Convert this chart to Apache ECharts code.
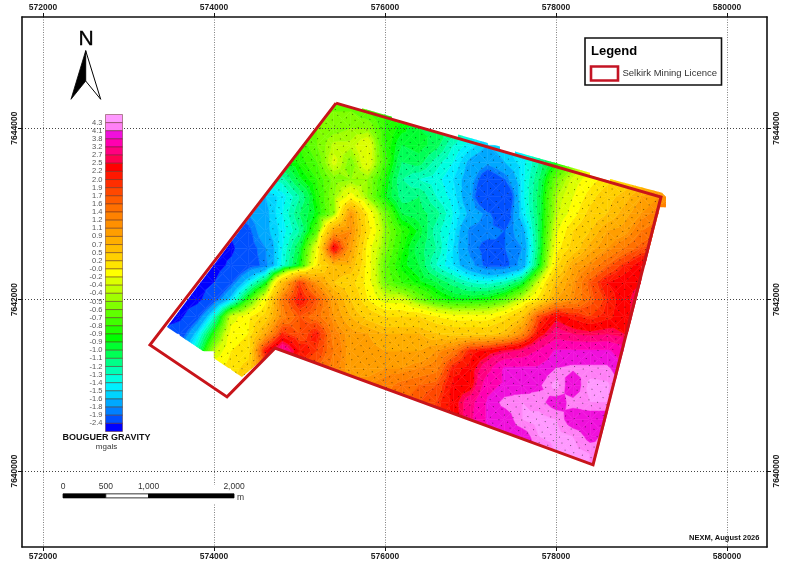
<!DOCTYPE html>
<html><head><meta charset="utf-8">
<style>html,body{margin:0;padding:0;background:#fff}#c{width:800px;height:566px}</style>
<script src="https://cdn.jsdelivr.net/npm/echarts@6/dist/echarts.min.js"></script>
</head><body><div id="c"></div>
<script>
const _ = null;
// map axes
const eastTicks = [572000, 574000, 576000, 578000, 580000];
const northTicks = [7640000, 7642000, 7644000];
// colour scale, top to bottom
const scaleLabels = ['4.3','4.1','3.8','3.2','2.7','2.5','2.2','2.0','1.9','1.7','1.6','1.4','1.2','1.1','0.9','0.7','0.5','0.2','-0.0','-0.2','-0.4','-0.4','-0.5','-0.6','-0.7','-0.8','-0.9','-0.9','-1.0','-1.1','-1.2','-1.3','-1.4','-1.5','-1.6','-1.8','-1.9','-2.4'];
const scaleLevels = [4.3,4.1,3.8,3.2,2.7,2.5,2.2,2.0,1.9,1.7,1.6,1.4,1.2,1.1,0.9,0.7,0.5,0.2,0,-0.2,-0.35,-0.43,-0.5,-0.6,-0.7,-0.8,-0.87,-0.93,-1.0,-1.1,-1.2,-1.3,-1.4,-1.5,-1.6,-1.8,-1.9,-2.4];
const scaleColors = ['#FF99FF','#FF80F6','#F010DC','#FF00B0','#FF0080','#FF0050','#FF0000','#FF1800','#FF2E00','#FF4800','#FF5C00','#FF7000','#FF8200','#FF9000','#FF9E00','#FFAE00','#FFBE00','#FFD000','#FFE400','#FFFF00','#DCFF00','#C0FF00','#A0FF00','#80FF00','#60FF00','#40FF00','#20FF00','#00FF00','#00FF30','#00FF55','#00FF88','#00FFB4','#00FFE0','#00F0FF','#00D4FF','#00A8FF','#0080FF','#0050FF','#0000FF'];
const eastStart = 573200, cellSize = 200;
const n7644400 = [_,_,_,_,_,_,_,_,_,_,-.6,-.6,-.6,-.6,-.7,_,_,_,_,_,_,_,_,_,_,_,_,_,_,_,_,_];
const n7644200 = [_,_,_,_,_,_,_,_,_,-.6,-.6,-.6,-.6,-.7,-.8,-.8,-.8,-.9,_,_,_,_,_,_,_,_,_,_,_,_,_,_];
const n7644000 = [_,_,_,_,_,_,_,_,_,-.6,-.6,-.55,-.5,-.5,-.8,-.9,-1,-1,-1.1,-1.3,-1.4,_,_,_,_,_,_,_,_,_,_,_];
const n7643800 = [_,_,_,_,_,_,_,_,-.8,-.8,-.6,-.4,-.4,-.2,-.8,-1,-.95,-1.05,-1.3,-1.45,-1.6,-1.5,-1.4,-1.2,-1,-.7,_,_,_,_,_,_];
const n7643600 = [_,_,_,_,_,_,_,-1,-.95,-.85,-.7,-.3,-.55,-.2,-.75,-1.1,-1.05,-1.25,-1.4,-1.65,-1.75,-1.6,-1.45,-1.2,-.9,-.6,-.2,0,-.1,_,_,_];
const n7643400 = [_,_,_,_,_,_,-1.2,-1.3,-1.25,-.95,-.8,-.55,-.5,-.5,-.85,-1.2,-1.3,-1.35,-1.5,-1.7,-2.1,-1.9,-1.45,-1.1,-.6,-.3,-.1,.1,.3,.5,.7,.8];
const n7643200 = [_,_,_,_,_,-1.5,-1.6,-1.6,-1.45,-1.2,-.85,-.5,-.1,-.5,-.9,-1.15,-1.1,-1.3,-1.45,-1.75,-2.3,-2.3,-1.45,-1.05,-.45,-.2,.1,.4,.6,.9,1.1,1.2];
const n7643000 = [_,_,_,_,-1.6,-1.7,-1.8,-1.65,-1.4,-1.1,-.9,-.5,1.1,0,-.6,-1,-1.05,-1.15,-1.4,-1.65,-1.85,-2.1,-1.5,-1.05,-.4,-.1,.3,.5,.8,1.1,1.3,1.4];
const n7642800 = [_,_,_,-2.2,-2.2,-2.3,-1.95,-1.65,-1.45,-1.2,-.7,1,1.2,.1,-.5,-.8,-.95,-1.25,-1.45,-1.85,-1.85,-1.9,-1.7,-1.05,-.25,.2,.5,.9,1,1.4,1.6,1.6];
const n7642600 = [_,_,-2.6,-2.6,-2.6,-2.5,-2,-1.8,-1.4,-1,-.2,2.4,1,-.1,-.55,-.85,-1.05,-1.2,-1.5,-1.85,-1.95,-1.9,-1.8,-1.05,-.1,.3,.8,1.1,1.4,1.7,1.8,1.8];
const n7642400 = [_,-2.6,-2.6,-2.6,-2.6,-2.3,-2,-1.85,-1.35,-.9,0,.7,.7,-.1,-.65,-.9,-1,-1.3,-1.5,-1.75,-1.95,-1.95,-1.75,-.95,.1,.9,1.2,1.6,2,2.4,2.5,_];
const n7642200 = [-2.6,-2.6,-2.6,-2.6,-2.4,-1.95,-1.45,-.95,.6,1.9,1.1,.5,.3,-.1,-.6,-.8,-.9,-1,-1.15,-1.3,-1.35,-1.25,-1,-.3,.6,1.1,1.7,2.2,2.4,2.5,_,_];
const n7642000 = [-2.6,-2.6,-2.6,-2.55,-2,-1.5,-.8,-.1,1.4,2.2,1.7,1,.5,0,-.3,-.3,-.6,-.8,-.9,-.9,-.85,-.7,-.35,.1,.9,1.2,1.6,2,2.4,2.7,_,_];
const n7641800 = [-2.6,-2.6,-2.5,-2,-1.3,-.3,-.05,.3,1.3,1.7,1.5,1.1,.7,.4,.2,.2,.2,0,-.1,-.1,-.1,.1,.5,1.8,2.4,2.1,1.9,2.1,2.4,2.7,_,_];
const n7641600 = [_,-2.3,-2.1,-1.5,-.8,-.1,0,.9,2,1.7,2.1,1.3,1,.9,.7,.7,.7,.5,.4,.4,.4,.6,1.2,2.3,2.9,2.7,2.6,2.7,2.5,2.3,_,_];
const n7641400 = [_,_,-1.7,-1.2,-.4,0,.1,2.2,3.2,2.2,1.9,1.4,1,1,.9,.9,.9,1.1,1.4,2.1,2.3,2.6,2.8,3.3,3.9,3.9,3.9,3.9,3.5,_,_,_];
const n7641200 = [_,_,_,_,0,.1,.3,1.5,2.5,1.9,1.6,1.3,1,1,1.1,1.1,1.2,1.3,2.1,2.3,3,3.9,3.9,3.9,4.1,4.15,4.15,4.15,3.9,_,_,_];
const n7641000 = [_,_,_,_,_,.2,.4,.8,1.8,1.8,1.6,1.3,1.2,1.2,1.3,1.5,1.6,1.7,2.3,2.3,3.6,3.9,3.9,4.05,4.4,3.85,4.4,4.35,4,_,_,_];
const n7640800 = [_,_,_,_,_,_,_,_,_,_,_,_,_,1.4,1.5,1.6,1.7,1.9,2.3,3,3.9,4.2,4.3,4.2,3.95,4.2,4.3,4.3,4,_,_,_];
const n7640600 = [_,_,_,_,_,_,_,_,_,_,_,_,_,_,_,1.8,1.9,2,2.2,3.1,3.9,3.9,4.3,4.4,4.3,3.9,3.9,3.9,3.9,_,_,_];
const n7640400 = [_,_,_,_,_,_,_,_,_,_,_,_,_,_,_,_,_,_,2.5,3.2,3.6,3.9,3.9,4.3,4.4,4.3,4,4.2,_,_,_,_];
const n7640200 = [_,_,_,_,_,_,_,_,_,_,_,_,_,_,_,_,_,_,_,_,_,3.6,3.9,4,4.3,4.4,4.3,4.2,_,_,_,_];
const n7640000 = [_,_,_,_,_,_,_,_,_,_,_,_,_,_,_,_,_,_,_,_,_,_,_,4,4.2,4.3,4.3,4.2,_,_,_,_];
const northings = [7644400,7644200,7644000,7643800,7643600,7643400,7643200,7643000,7642800,7642600,7642400,7642200,7642000,7641800,7641600,7641400,7641200,7641000,7640800,7640600,7640400,7640200,7640000];
const gridRows = [n7644400,n7644200,n7644000,n7643800,n7643600,n7643400,n7643200,n7643000,n7642800,n7642600,n7642400,n7642200,n7642000,n7641800,n7641600,n7641400,n7641200,n7641000,n7640800,n7640600,n7640400,n7640200,n7640000];
// licence outline, surveyed area and station area, map coordinates
const licence = [[575427,7644292],[579228,7643197],[578433,7640072],[574713,7641434],[574152,7640865],[573251,7641471],[575427,7644292]];
const surveyed = [[575427,7644292],[575731,7644205],[575731,7644232],[576082,7644133],[576082,7644106],[576854,7643888],[576854,7643925],[577345,7643785],[577345,7643748],[577520,7643699],[577520,7643726],[578398,7643478],[578398,7643451],[578632,7643384],[578632,7643405],[579240,7643245],[579287,7643195],[579287,7643078],[579216,7643078],[578445,7640062],[574713,7641425],[574327,7641096],[573450,7641679]];
const stationArea = [[575427,7644292],[579228,7643197],[578433,7640072],[574713,7641434],[574327,7641096],[573988,7641318],[574211,7641994],[574561,7642461],[574632,7642810],[574655,7643219],[575006,7643743]];
// scale bar, metres
const barSegments = [[0,500,'#000'],[500,1000,'#fff'],[1000,2000,'#000']];
const barLabels = [[0,'0'],[500,'500'],[1000,'1,000'],[2000,'2,000']];
const barOrigin = [572234, 7639734];

const chart = echarts.init(document.getElementById('c'), null, {renderer:'canvas'});
const FONT = '"Liberation Sans", Arial, sans-serif';

function clipBand(poly, lo, hi){
  function cut(p, keep, lev){
    const out=[];
    for(let i=0;i<p.length;i++){
      const a=p[i], b=p[(i+1)%p.length], ka=keep(a[2]), kb=keep(b[2]);
      if(ka) out.push(a);
      if(ka!==kb){ const t=(lev-a[2])/(b[2]-a[2]); out.push([a[0]+t*(b[0]-a[0]),a[1]+t*(b[1]-a[1]),lev]); }
    }
    return out;
  }
  let r=poly;
  if(lo>-Infinity) r=cut(r,v=>v>=lo,lo);
  if(r.length<3) return r;
  if(hi<Infinity) r=cut(r,v=>v<=hi,hi);
  return r;
}
const cells=[];
for(let r=0;r<gridRows.length-1;r++){
  for(let c=0;c<31;c++){
    const a=gridRows[r][c], b=gridRows[r][c+1], d=gridRows[r+1][c], e=gridRows[r+1][c+1];
    if(a===null||b===null||d===null||e===null) continue;
    cells.push([eastStart+c*cellSize, northings[r], a,b,d,e]);
  }
}
function renderCell(params, api){
  const x0=api.value(0), y0=api.value(1), a=api.value(2), b=api.value(3), d=api.value(4), e=api.value(5);
  const pts={a:[x0,y0,a],b:[x0+cellSize,y0,b],d:[x0,y0-cellSize,d],e:[x0+cellSize,y0-cellSize,e]};
  const m=[x0+cellSize/2,y0-cellSize/2,(a+b+d+e)/4];
  const tris=[[pts.a,pts.b,m],[pts.b,pts.e,m],[pts.e,pts.d,m],[pts.d,pts.a,m]];
  const children=[];
  for(const t of tris){
    const vs=t.map(p=>p[2]); const mn=Math.min(...vs), mx=Math.max(...vs);
    for(let i=0;i<scaleColors.length;i++){
      const hi=i===0?Infinity:scaleLevels[i-1], lo=i===scaleLevels.length?-Infinity:scaleLevels[i];
      if(mx<lo||mn>hi) continue;
      const poly=clipBand(t,lo,hi);
      if(poly.length<3) continue;
      children.push({type:'polygon',shape:{points:poly.map(p=>api.coord([p[0],p[1]]))},
        style:{fill:scaleColors[i],stroke:scaleColors[i],lineWidth:0.5}});
    }
  }
  return {type:'group',children,clipPath:{type:'polygon',shape:{points:surveyed.map(p=>api.coord(p))}}};
}
function dotTexture(){
  const cv=document.createElement('canvas'); cv.width=9; cv.height=11;
  const g=cv.getContext('2d'); g.fillStyle='rgba(0,0,0,0.55)';
  g.fillRect(1,1,1,1); g.fillRect(5,6,1,1);
  return cv;
}
const xBase={type:'value',min:571754,max:580468,gridIndex:0,z:5,scale:true,
  axisLine:{show:true,lineStyle:{color:'#111',width:1.6}},
  axisTick:{show:true,length:4,customValues:eastTicks,lineStyle:{color:'#111'}},
  axisLabel:{customValues:eastTicks,formatter:v=>String(v),color:'#222',fontFamily:FONT,fontSize:8.5,fontWeight:'bold',margin:5}};
const yBase={type:'value',min:7639114,max:7645296,gridIndex:0,z:5,scale:true,
  axisLine:{show:true,lineStyle:{color:'#111',width:1.6}},
  axisTick:{show:true,length:4,customValues:northTicks,lineStyle:{color:'#111'}},
  axisLabel:{customValues:northTicks,formatter:v=>String(v),rotate:90,color:'#222',fontFamily:FONT,fontSize:8.5,fontWeight:'bold',margin:3}};

chart.setOption({
  animation:false,
  backgroundColor:'#fff',
  grid:[{left:22,right:33,top:17,bottom:19,show:false},{left:105.5,top:114.5,width:17,height:317,show:false}],
  xAxis:[
    Object.assign({},xBase,{position:'bottom',splitLine:{show:true,lineStyle:{color:'#808080',width:1,type:[1,1.5]}}}),
    Object.assign({},xBase,{position:'top',splitLine:{show:false}}),
    {type:'value',gridIndex:1,min:0,max:1,show:false}
  ],
  yAxis:[
    Object.assign({},yBase,{position:'left',splitLine:{show:true,lineStyle:{color:'#444',width:1,type:[1,2]}}}),
    Object.assign({},yBase,{position:'right',splitLine:{show:false},axisLabel:Object.assign({},yBase.axisLabel,{margin:5})}),
    {type:'value',gridIndex:1,min:0,max:39,interval:1,position:'left',z:7,
      axisLine:{show:false},axisTick:{show:false},splitLine:{show:false},
      axisLabel:{show:true,margin:3,fontSize:7.5,color:'#555',fontFamily:FONT,formatter:v=>{const k=38-v;return (k>=0&&k<scaleLabels.length&&v>0)?scaleLabels[k]:'';}}}
  ],
  series:[
    {type:'custom',name:'Bouguer gravity',coordinateSystem:'cartesian2d',xAxisIndex:0,yAxisIndex:0,z:2,clip:true,silent:true,
      data:cells,encode:{x:0,y:1},renderItem:renderCell},
    {type:'custom',name:'Stations',coordinateSystem:'cartesian2d',xAxisIndex:0,yAxisIndex:0,z:3,silent:true,
      data:[[stationArea[0][0],stationArea[0][1]]],encode:{x:0,y:1},
      renderItem:(p,api)=>({type:'polygon',shape:{points:stationArea.map(q=>api.coord(q))},
        style:{fill:{image:dotTexture(),repeat:'repeat',rotation:0.28},stroke:null}})},
    {type:'line',name:'Selkirk Mining Licence',xAxisIndex:0,yAxisIndex:0,z:6,data:licence,symbol:'none',silent:true,
      lineStyle:{color:'#C8141A',width:3,join:'miter'}},
    {type:'custom',name:'Colour scale',coordinateSystem:'cartesian2d',xAxisIndex:2,yAxisIndex:2,z:6,silent:true,
      data:scaleColors.map((c,i)=>[0,38-i]),encode:{x:0,y:1},
      renderItem:(p,api)=>{const a=api.coord([0,api.value(1)+1]),b=api.coord([1,api.value(1)]);
        return {type:'rect',shape:{x:a[0],y:a[1],width:b[0]-a[0],height:b[1]-a[1]},
          style:{fill:scaleColors[p.dataIndex],stroke:'rgba(90,40,30,0.6)',lineWidth:0.8}};}},
    {type:'custom',name:'Scale bar',coordinateSystem:'cartesian2d',xAxisIndex:0,yAxisIndex:0,z:8,silent:true,
      data:barSegments,encode:{x:0,y:1},
      renderItem:(p,api)=>{const s=barSegments[p.dataIndex];
        const a=api.coord([barOrigin[0]+s[0],barOrigin[1]]),b=api.coord([barOrigin[0]+s[1],barOrigin[1]-47]);
        return {type:'rect',shape:{x:a[0],y:a[1],width:b[0]-a[0],height:b[1]-a[1]},style:{fill:s[2],stroke:'#000',lineWidth:0.8}};}},
    {type:'custom',name:'Scale labels',coordinateSystem:'cartesian2d',xAxisIndex:0,yAxisIndex:0,z:8,silent:true,
      data:barLabels,encode:{x:0,y:1},
      renderItem:(p,api)=>{const s=barLabels[p.dataIndex];const a=api.coord([barOrigin[0]+s[0],barOrigin[1]]);
        return {type:'text',x:a[0],y:a[1]-7,style:{text:s[1],fill:'#333',font:'8.5px '+FONT,textAlign:'center',textVerticalAlign:'middle'}};}}
  ],
  graphic:[
    {type:'rect',z:7,shape:{x:206,y:485,width:16,height:18},style:{fill:'#fff'}},
    {type:'text',z:9,x:237,y:498,style:{text:'m',fill:'#333',font:'8.5px '+FONT,textVerticalAlign:'middle'}},
    {type:'text',z:9,x:86,y:39,style:{text:'N',fill:'#000',stroke:'#000',lineWidth:.4,font:'21px '+FONT,textAlign:'center',textVerticalAlign:'middle'}},
    {type:'polygon',z:9,shape:{points:[[85.7,50.7],[71,99.3],[85.7,81]]},style:{fill:'#000',stroke:'#000',lineWidth:.8}},
    {type:'polygon',z:9,shape:{points:[[85.7,50.7],[100.7,99.3],[85.7,81]]},style:{fill:'#fff',stroke:'#000',lineWidth:1}},
    {type:'text',z:9,x:106.5,y:438,style:{text:'BOUGUER GRAVITY',fill:'#111',font:'bold 9px '+FONT,textAlign:'center',textVerticalAlign:'middle'}},
    {type:'text',z:9,x:106.5,y:447,style:{text:'mgals',fill:'#333',font:'8px '+FONT,textAlign:'center',textVerticalAlign:'middle'}},
    {type:'rect',z:9,shape:{x:585,y:38,width:136.5,height:47},style:{fill:'#fff',stroke:'#111',lineWidth:1.6}},
    {type:'text',z:9,x:591,y:51.5,style:{text:'Legend',fill:'#000',font:'bold 13px '+FONT,textVerticalAlign:'middle'}},
    {type:'rect',z:9,shape:{x:591,y:66.5,width:27,height:14},style:{fill:'#fff',stroke:'#C41424',lineWidth:2.6}},
    {type:'text',z:9,x:622.5,y:73.5,style:{text:'Selkirk Mining Licence',fill:'#333',font:'9.5px '+FONT,textVerticalAlign:'middle'}},
    {type:'text',z:9,x:689,y:537.5,style:{text:'NEXM, August 2026',fill:'#111',font:'bold 7.5px '+FONT,textVerticalAlign:'middle'}}
  ]
});
</script></body></html>
